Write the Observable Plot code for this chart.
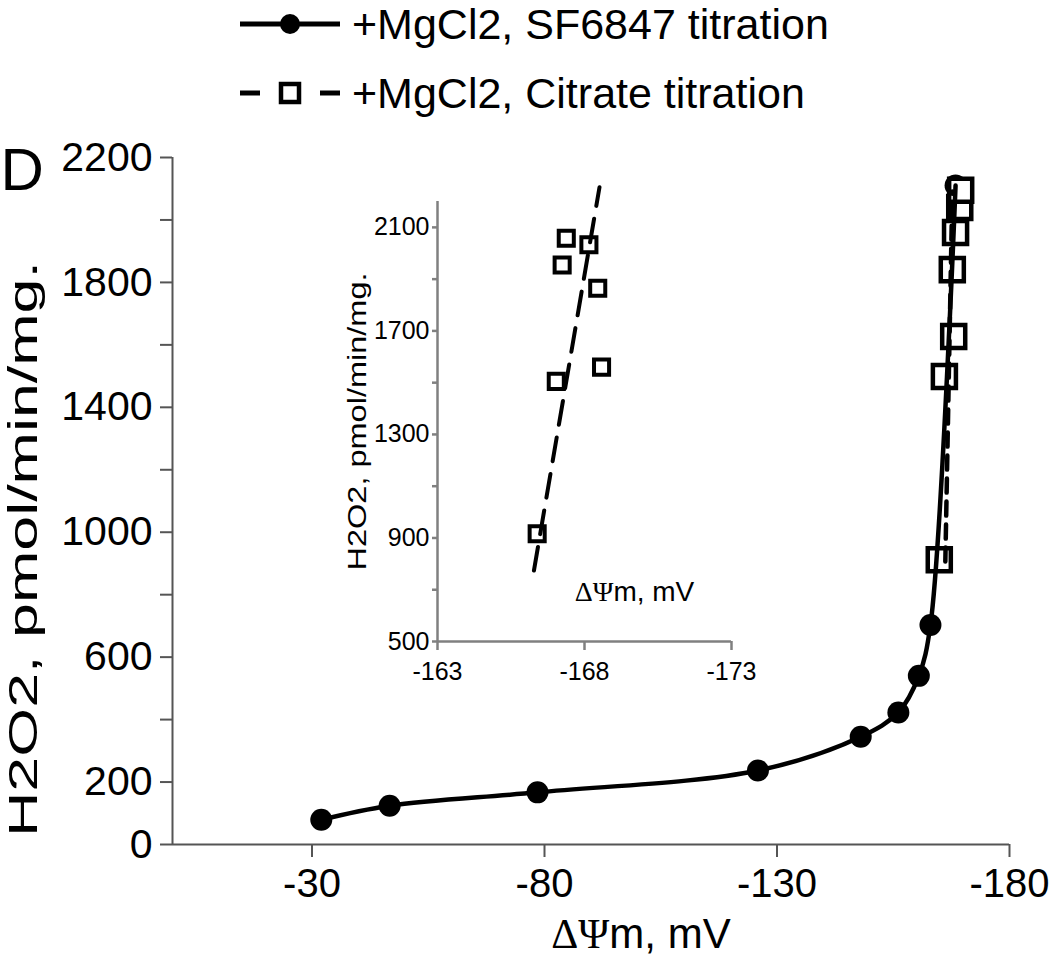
<!DOCTYPE html>
<html><head><meta charset="utf-8">
<script src="https://cdn.jsdelivr.net/npm/d3@7"></script>
<script src="https://cdn.jsdelivr.net/npm/@observablehq/plot@0.6"></script>
<style>
body{margin:0;background:#fff;font-family:"Liberation Sans",Arial,sans-serif;}
#wrap{position:relative;width:1050px;height:958px;overflow:hidden;background:#fff;}
#main,#inset{position:absolute;}
#main{left:0;top:0}
#inset{left:300px;top:180px}
.lg{position:absolute;left:236px;height:48px;line-height:48px;display:flex;align-items:center;font-size:43px;color:#000;white-space:nowrap;}
.lg svg{margin-right:10px;}
</style></head>
<body><div id="wrap"><div id="main"></div><div id="inset"></div>
<div class="lg" id="lg1" style="top:0px"></div>
<div class="lg" id="lg2" style="top:69px"></div>
</div>
<script>
// ---- data ----
const sfX = [-32, -46.7, -78.5, -125.9, -148.0, -156.1, -160.5, -163.0, -168.4];
const sfY = [79, 124, 167, 237, 345, 423, 540, 703, 2110];
const citMainX = [-164.9, -166.0, -168.0, -167.7, -168.4, -169.3, -169.5];
const citMainY = [912, 1499, 1627, 1841, 1960, 2040, 2095];
const citMainTrendX = [-166.2, -167.7];
const citMainTrendY = [906, 2091];
const citInsetX = [-166.39, -167.04, -168.58, -168.45, -167.24, -167.38, -168.15];
const citInsetY = [916, 1505, 1560, 1865, 1955, 2058, 2033];
const citInsetTrendX = [-166.28, -168.51];
const citInsetTrendY = [774, 2255];
const mainXTicks = [-30, -80, -130, -180];
const mainYTicks = d3.range(0, 2201, 200);
const mainYLabels = [0, 200, 600, 1000, 1400, 1800, 2200];
const insetXTicks = [-163, -168, -173];
const insetYTicks = d3.range(500, 2101, 200);
const insetYLabels = [500, 900, 1300, 1700, 2100];
const legendLabels = ["+MgCl2, SF6847 titration", "+MgCl2, Citrate titration"];
const xTitle = "ΔΨm, mV";
const yTitle = "H2O2, pmol/min/mg.";
const panelLabel = "D";

const zip = (xs, ys) => xs.map((x, i) => ({x, y: ys[i]}));
const sf = zip(sfX, sfY);
const citMain = zip(citMainX, citMainY);
const citMainTrend = zip(citMainTrendX, citMainTrendY);
const citInset = zip(citInsetX, citInsetY);
const citInsetTrend = zip(citInsetTrendX, citInsetTrendY);
const FONT = "Liberation Sans, Arial, sans-serif";
const fmt = d => String(d); // plain hyphen-minus as in the original

const main = Plot.plot({
  width: 1050, height: 958,
  marginLeft: 172, marginRight: 41, marginTop: 157, marginBottom: 114,
  style: {background: "transparent", fontFamily: FONT, overflow: "visible", color: "#000"},
  x: {domain: [0, -180], axis: null},
  y: {domain: [0, 2200], axis: null},
  marks: [
    Plot.ruleY([0], {stroke: "#555", strokeWidth: 2}),
    Plot.ruleX([0], {stroke: "#555", strokeWidth: 2}),
    Plot.axisX({ticks: mainXTicks, tickFormat: fmt, tickSize: 13, tickPadding: 11, fontSize: 40, stroke: "#555", strokeWidth: 2, fill: "#000", label: null}),
    Plot.axisY({ticks: mainYTicks, tickFormat: d => mainYLabels.includes(d) ? fmt(d) : "", tickSize: 12, tickPadding: 8, fontSize: 41, stroke: "#555", strokeWidth: 2, fill: "#000", label: null}),
    Plot.dot(sf, {x: "x", y: "y", r: 11, fill: "#000"}),
    Plot.dot(citMain, {x: "x", y: "y", symbol: "square", r: 13, stroke: "#000", strokeWidth: 4.5, fill: "#fff"}),
    Plot.line(citMainTrend, {x: "x", y: "y", stroke: "#000", strokeWidth: 4.5, strokeDasharray: "14,9"}),
    Plot.line(sf, {x: "x", y: "y", curve: "catmull-rom", stroke: "#000", strokeWidth: 4.5}),
    Plot.text([panelLabel], {frameAnchor: "top-left", dx: -172, dy: 13, fontSize: 60, textAnchor: "start", lineAnchor: "middle", fill: "#000"}),
    Plot.text([yTitle], {frameAnchor: "left", rotate: -90, dx: -149, dy: 48, fontSize: 41, textAnchor: "middle", lineAnchor: "middle", fill: "#000"}),
    Plot.text([xTitle], {frameAnchor: "bottom", dx: 50, dy: 90, fontSize: 42, textAnchor: "middle", lineAnchor: "middle", fill: "#000"})
  ]
});
document.getElementById("main").appendChild(main);

const inset = Plot.plot({
  width: 480, height: 520,
  marginLeft: 137, marginRight: 49, marginTop: 21, marginBottom: 59,
  style: {background: "transparent", fontFamily: FONT, overflow: "visible", color: "#000"},
  x: {domain: [-163, -173], axis: null},
  y: {domain: [500, 2200], axis: null},
  marks: [
    Plot.ruleX([-163], {stroke: "#808080", strokeWidth: 2.5}),
    Plot.ruleY([500], {stroke: "#808080", strokeWidth: 2.5}),
    Plot.axisX({ticks: insetXTicks, tickFormat: fmt, tickSize: 9, tickPadding: 12, fontSize: 25, stroke: "#808080", strokeWidth: 2.5, fill: "#000", label: null}),
    Plot.axisY({ticks: insetYTicks, tickFormat: d => insetYLabels.includes(d) ? fmt(d) : "", tickSize: 5, tickPadding: 3, fontSize: 25, stroke: "#808080", strokeWidth: 2.5, fill: "#000", label: null}),
    Plot.line(citInsetTrend, {x: "x", y: "y", stroke: "#000", strokeWidth: 4, strokeDasharray: "24,13"}),
    Plot.dot(citInset, {x: "x", y: "y", symbol: "square", r: 8.5, stroke: "#000", strokeWidth: 4, fill: "none"}),
    Plot.text([xTitle], {frameAnchor: "bottom", dx: 50, dy: -49, fontSize: 28, textAnchor: "middle", lineAnchor: "middle", fill: "#000"}),
    Plot.text([yTitle], {frameAnchor: "left", rotate: -90, dx: -80, dy: 0, fontSize: 25, textAnchor: "middle", lineAnchor: "middle", fill: "#000"})
  ]
});
document.getElementById("inset").appendChild(inset);

const svgNS = "http://www.w3.org/2000/svg";
// serif Delta-Psi as in the original; stretched y titles as in the original
function finish(svg, yLen) {
  svg.querySelectorAll("text").forEach(t => {
    if (t.textContent === xTitle) {
      t.textContent = "";
      const a = document.createElementNS(svgNS, "tspan");
      a.setAttribute("font-family", "Liberation Serif, Times New Roman, serif");
      a.textContent = "ΔΨ";
      t.appendChild(a);
      t.appendChild(document.createTextNode("m, mV"));
    } else if (t.textContent === yTitle) {
      t.setAttribute("textLength", yLen);
      t.setAttribute("lengthAdjust", "spacingAndGlyphs");
    }
  });
}
finish(main, 576);
finish(inset, 298);

// legend
function sym(kind) {
  const s = d3.create("svg").attr("width", 106).attr("height", 44);
  if (kind === 0) {
    s.append("line").attr("x1", 4).attr("x2", 104).attr("y1", 22).attr("y2", 22).attr("stroke", "#000").attr("stroke-width", 5);
    s.append("circle").attr("cx", 54).attr("cy", 22).attr("r", 10).attr("fill", "#000");
  } else {
    s.append("line").attr("x1", 4).attr("x2", 24).attr("y1", 22).attr("y2", 22).attr("stroke", "#000").attr("stroke-width", 5);
    s.append("line").attr("x1", 84).attr("x2", 104).attr("y1", 22).attr("y2", 22).attr("stroke", "#000").attr("stroke-width", 5);
    s.append("rect").attr("x", 45).attr("y", 13).attr("width", 18).attr("height", 18).attr("fill", "none").attr("stroke", "#000").attr("stroke-width", 4.5);
  }
  return s.node();
}
[["lg1", 0], ["lg2", 1]].forEach(([id, k]) => {
  const el = document.getElementById(id);
  el.appendChild(sym(k));
  const sp = document.createElement("span");
  sp.textContent = legendLabels[k];
  el.appendChild(sp);
});
</script></body></html>
